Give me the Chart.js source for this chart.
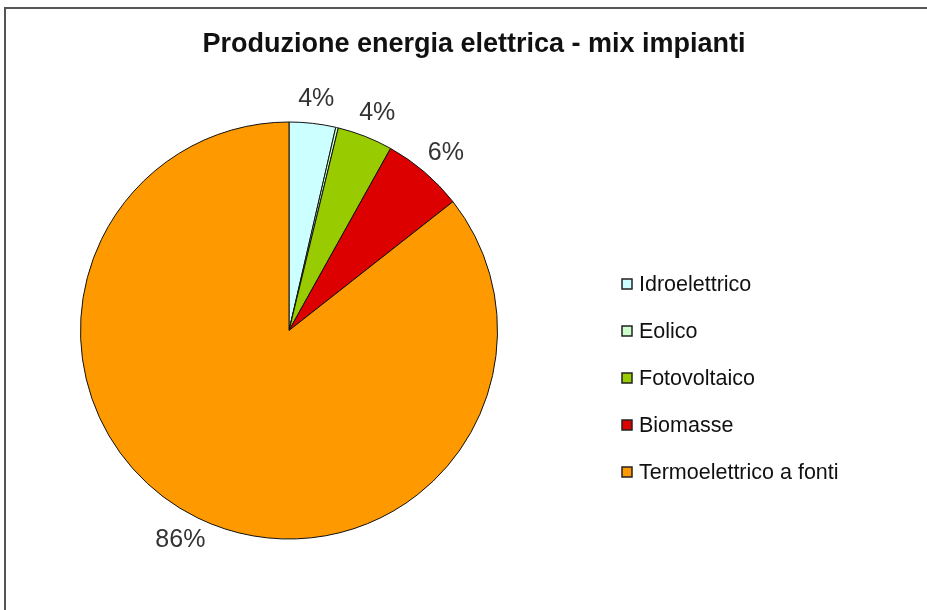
<!DOCTYPE html>
<html>
<head>
<meta charset="utf-8">
<script src="https://cdn.jsdelivr.net/npm/chart.js@4"></script>
<style>
  html, body { margin: 0; padding: 0; background: #fff; }
  #wrap { position: relative; width: 927px; height: 610px; overflow: hidden; }
  #frame { position: absolute; left: 4px; top: 7px; width: 960px; height: 640px;
           border-top: 2px solid #555; border-left: 2px solid #555; }
  #mixChart { position: absolute; left: 0; top: 0; }
</style>
</head>
<body>
<div id="wrap">
  <div id="frame"></div>
  <canvas id="mixChart" width="927" height="610"></canvas>
</div>
<script>
const chartTitle = 'Produzione energia elettrica - mix impianti';
const categories = ['Idroelettrico', 'Eolico', 'Fotovoltaico', 'Biomasse', 'Termoelettrico a fonti'];
const shares = [3.6, 0.2, 4.3, 6.3, 85.6];
const sliceColors = ['#ccffff', '#ccffcc', '#99cc00', '#dd0000', '#ff9900'];

// title, percent labels and legend drawn on the same canvas
const extrasPlugin = {
  id: 'extras',
  afterDatasetsDraw(chart) {
    const ctx = chart.ctx;
    const meta = chart.getDatasetMeta(0);
    const total = shares.reduce((a, b) => a + b, 0);
    ctx.save();

    // percent labels outside the pie
    ctx.font = '25px "Liberation Sans", Arial, sans-serif';
    ctx.fillStyle = '#333';
    ctx.textAlign = 'center';
    ctx.textBaseline = 'middle';
    meta.data.forEach((arc, i) => {
      const pct = Math.round(shares[i] / total * 100);
      if (pct < 1) return;
      const p = arc.getProps(['x', 'y', 'startAngle', 'endAngle', 'outerRadius'], true);
      const mid = (p.startAngle + p.endAngle) / 2;
      const txt = pct + '%';
      const w = ctx.measureText(txt).width;
      const h = 19;
      const dx = Math.cos(mid), dy = Math.sin(mid);
      const r = p.outerRadius + 15;
      ctx.fillText(txt, p.x + dx * (r + w / 2), p.y + dy * (r + h / 2));
    });

    // title
    ctx.font = 'bold 27px "Liberation Sans", Arial, sans-serif';
    ctx.fillStyle = '#111';
    ctx.fillText(chartTitle, 474, 45);

    // legend
    ctx.font = '21.5px "Liberation Sans", Arial, sans-serif';
    ctx.textAlign = 'left';
    categories.forEach((name, i) => {
      const yy = 284 + i * 47;
      ctx.fillStyle = sliceColors[i];
      ctx.fillRect(622, yy - 5, 10, 10);
      ctx.strokeStyle = '#222';
      ctx.lineWidth = 1.5;
      ctx.strokeRect(622, yy - 5, 10, 10);
      ctx.fillStyle = '#111';
      ctx.fillText(name, 639, yy + 1);
    });
    ctx.restore();
  }
};

new Chart(document.getElementById('mixChart').getContext('2d'), {
  type: 'pie',
  data: {
    labels: categories,
    datasets: [{
      data: shares,
      backgroundColor: sliceColors,
      borderColor: '#111',
      borderWidth: 1
    }]
  },
  options: {
    responsive: false,
    animation: false,
    layout: { padding: { left: 80, right: 429, top: 121, bottom: 70 } },
    plugins: {
      legend: { display: false },
      title: { display: false },
      tooltip: { enabled: false }
    }
  },
  plugins: [extrasPlugin]
});
</script>
</body>
</html>
